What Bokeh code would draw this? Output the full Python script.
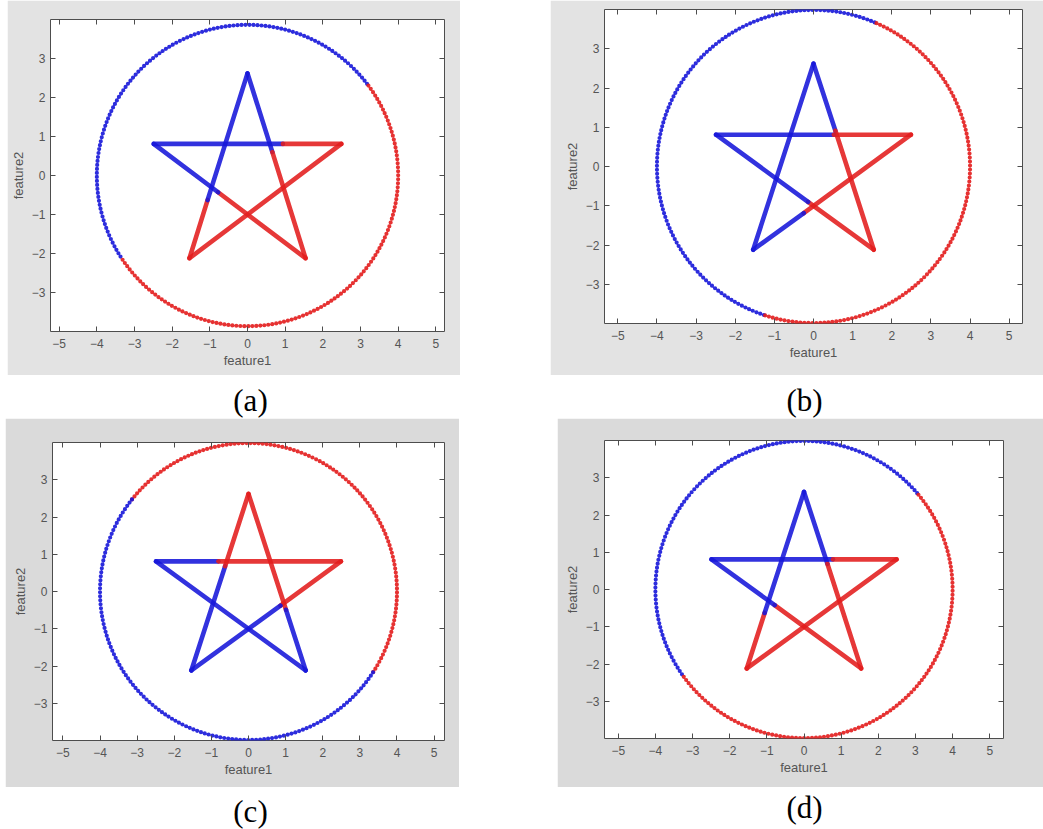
import numpy as np
from bokeh.plotting import figure
from bokeh.layouts import column, row, Spacer
from bokeh.models import Range1d, FixedTicker, LinearAxis, Label, ColumnDataSource
from bokeh.embed import file_html
from bokeh.resources import INLINE

# ---- data -------------------------------------------------------------
# pentagram vertices in drawing order: top, lower right, left, right, lower left
star_x = [0.0, 1.54, -2.49, 2.49, -1.54]
star_y = [2.62, -2.12, 0.81, 0.81, -2.12]
circle_radius = 4.0

x_ticks = [-5, -4, -3, -2, -1, 0, 1, 2, 3, 4, 5]
y_ticks = [-3, -2, -1, 0, 1, 2, 3]

# ring: class of each arc (degrees, counter-clockwise)
a_arc_start = [37.5, 214.0]
a_arc_end = [214.0, 397.5]
a_arc_class = ["blue", "red"]
# star: class at the start of each edge and the point where the class switches
a_edge_first = ["blue", "red", "blue", "red", "red"]
a_split_x = [0.66, -0.78, 0.94, None, -1.06]
a_split_y = [0.60, -0.43, 0.81, None, -0.63]

b_arc_start = [67.0, 252.0]
b_arc_end = [252.0, 427.0]
b_arc_class = ["blue", "red"]
b_edge_first = ["blue", "red", "blue", "red", "blue"]
b_split_x = [0.56, -0.14, 0.52, -0.25, None]
b_split_y = [0.91, -0.90, 0.81, -1.19, None]

c_arc_start = [-32.8, 141.7]
c_arc_end = [141.7, 327.2]
c_arc_class = ["red", "blue"]
c_edge_first = ["red", "blue", "blue", "red", "blue"]
c_split_x = [1.01, None, -0.81, 0.86, -0.63]
c_split_y = [-0.49, None, 0.81, -0.38, 0.68]

d_arc_start = [40.4, 216.0]
d_arc_end = [216.0, 400.4]
d_arc_class = ["blue", "red"]
d_edge_first = ["blue", "red", "blue", "red", "red"]
d_split_x = [0.63, -0.79, 0.78, None, -1.06]
d_split_y = [0.69, -0.42, 0.81, None, -0.63]

CLASS_COLOR = {"blue": "#1616d9", "red": "#e31c1c"}
OTHER = {"blue": "red", "red": "blue"}

AXIS_COLOR = "#4d4d4d"
TEXT_COLOR = "#555555"
SANS = "Liberation Sans"
SERIF = "Liberation Serif"


def star_segments(edge_first, split_x, split_y):
    x0, y0, x1, y1, col = [], [], [], [], []
    n = len(star_x)
    for i in range(n):
        ax, ay = star_x[i], star_y[i]
        bx, by = star_x[(i + 1) % n], star_y[(i + 1) % n]
        cls = edge_first[i]
        if split_x[i] is None:
            x0.append(ax); y0.append(ay); x1.append(bx); y1.append(by)
            col.append(CLASS_COLOR[cls])
        else:
            sx, sy = split_x[i], split_y[i]
            x0 += [ax, sx]; y0 += [ay, sy]; x1 += [sx, bx]; y1 += [sy, by]
            col += [CLASS_COLOR[cls], CLASS_COLOR[OTHER[cls]]]
    return ColumnDataSource(dict(x0=x0, y0=y0, x1=x1, y1=y1, color=col))


def panel(arc_start, arc_end, arc_class, edge_first, split_x, split_y,
          width, height, left, right, top, bottom, fill, x_half):
    p = figure(width=width, height=height,
               x_range=Range1d(-x_half, x_half), y_range=Range1d(-4.0, 4.0),
               output_backend="svg", toolbar_location=None,
               min_border_left=left, min_border_right=right,
               min_border_top=top, min_border_bottom=bottom,
               background_fill_color="white", border_fill_color=fill)
    p.grid.visible = False
    p.outline_line_color = AXIS_COLOR
    p.outline_line_width = 1

    for ax, ticks in ((p.xaxis[0], x_ticks), (p.yaxis[0], y_ticks)):
        ax.ticker = FixedTicker(ticks=ticks)
        ax.axis_line_color = None
        ax.major_tick_in = 5
        ax.major_tick_out = 0
        ax.major_tick_line_color = AXIS_COLOR
        ax.minor_tick_line_color = None
        ax.major_label_text_font = SANS
        ax.major_label_text_font_size = "12px"
        ax.major_label_text_color = TEXT_COLOR
        ax.axis_label_text_font = SANS
        ax.axis_label_text_font_size = "13px"
        ax.axis_label_text_font_style = "normal"
        ax.axis_label_text_color = TEXT_COLOR
    p.xaxis.axis_label = "feature1"
    p.yaxis.axis_label = "feature2"
    p.xaxis.major_label_standoff = 7
    p.xaxis.axis_label_standoff = 2
    p.yaxis.major_label_standoff = 5
    p.yaxis.axis_label_standoff = 3

    # tick marks on the top and right edges of the box (no labels there)
    for ticks, side in ((x_ticks, "above"), (y_ticks, "right")):
        extra = LinearAxis(ticker=FixedTicker(ticks=ticks),
                           major_label_text_font_size="0px",
                           major_label_text_color=None,
                           major_label_standoff=0,
                           axis_label=None, axis_label_standoff=0,
                           major_tick_in=5, major_tick_out=0,
                           major_tick_line_color=AXIS_COLOR,
                           minor_tick_line_color=None,
                           axis_line_color=None)
        p.add_layout(extra, side)

    ring = ColumnDataSource(dict(
        x=[0.0] * len(arc_start), y=[0.0] * len(arc_start),
        r=[circle_radius] * len(arc_start),
        start=np.deg2rad(arc_start), end=np.deg2rad(arc_end),
        color=[CLASS_COLOR[c] for c in arc_class]))
    p.arc(x="x", y="y", radius="r", start_angle="start", end_angle="end",
          direction="anticlock", source=ring, line_color="color",
          line_width=4.2, line_dash="0 4", line_cap="round", line_alpha=0.9)

    segs = star_segments(edge_first, split_x, split_y)
    p.segment(x0="x0", y0="y0", x1="x1", y1="y1", source=segs,
              line_color="color", line_width=4.6, line_cap="round",
              line_alpha=0.88)
    return p


def caption_row(height, items):
    p = figure(width=1043, height=height, x_range=Range1d(0, 1043),
               y_range=Range1d(0, height), output_backend="svg",
               toolbar_location=None, min_border=0,
               x_axis_location=None, y_axis_location=None,
               background_fill_color="white", border_fill_color="white")
    p.grid.visible = False
    p.outline_line_color = None
    for text, x, y in items:
        p.add_layout(Label(x=x, y=y, text=text, text_align="center",
                           text_baseline="middle", text_font=SERIF,
                           text_font_size="31px", text_color="black"))
    return p


pa = panel(a_arc_start, a_arc_end, a_arc_class, a_edge_first, a_split_x, a_split_y,
           453, 375, 43, 16, 19, 44, "#e3e3e3", 5.23)
pb = panel(b_arc_start, b_arc_end, b_arc_class, b_edge_first, b_split_x, b_split_y,
           493, 375, 54, 21, 9, 52, "#e3e3e3", 5.34)
pc = panel(c_arc_start, c_arc_end, c_arc_class, c_edge_first, c_split_x, c_split_y,
           454, 369, 47, 15, 24, 47, "#dadada", 5.28)
pd_ = panel(d_arc_start, d_arc_end, d_arc_class, d_edge_first, d_split_x, d_split_y,
            486, 369, 47, 40, 22, 49, "#dadada", 5.37)

cap1 = caption_row(43, [("(a)", 250, 18), ("(b)", 804, 18)])
cap2 = caption_row(42, [("(c)", 250, 18), ("(d)", 804, 22)])

# each panel sits in its own column so that the boxes keep their own insets
layout = column(
    row(Spacer(width=7, height=375), column(pa), Spacer(width=90, height=375),
        column(pb), spacing=0),
    cap1,
    row(Spacer(width=5, height=369), column(pc), Spacer(width=98, height=369),
        column(pd_), spacing=0),
    cap2,
    spacing=0,
)

open("out.html", "w").write(file_html(layout, INLINE))
